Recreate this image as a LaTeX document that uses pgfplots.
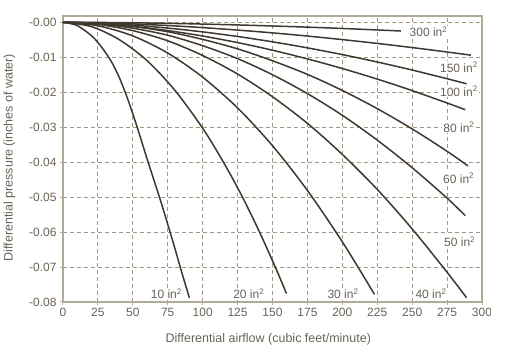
\documentclass[border=0pt]{standalone}
\usepackage{pgfplots}
\pgfplotsset{compat=1.18}
\usepackage{fontspec}
\setmainfont{Liberation Sans}
\definecolor{curve}{RGB}{62,56,47}
\definecolor{gridc}{RGB}{160,152,132}
\definecolor{framec}{RGB}{176,171,152}
\definecolor{txt}{RGB}{105,99,86}
\tikzset{crv/.style={draw=curve, solid, line width=1.5pt, smooth, mark=none}}
\begin{document}
\begin{tikzpicture}
\begin{scope}
\clip (-63pt,-53pt) rectangle (427pt,302pt);
\begin{axis}[
  scale only axis, width=419pt, height=286pt,
  xmin=0, xmax=300, ymin=-0.08, ymax=0.0018,
  scaled y ticks=false, scaled x ticks=false,
  xtick={0,25,50,75,100,125,150,175,200,225,250,275,300},
  xticklabels={0,25,50,75,100,125,150,175,200,225,250,275,300},
  ytick={-0.08,-0.07,-0.06,-0.05,-0.04,-0.03,-0.02,-0.01,0},
  yticklabels={-0.08,-0.07,-0.06,-0.05,-0.04,-0.03,-0.02,-0.01,-0.00},
  grid=major,
  major grid style={gridc, dash pattern=on 4pt off 3pt, line width=0.9pt},
  axis line style={framec, line width=1.2pt},
  tick style={framec, line width=1pt},
  tick align=outside, major tick length=3pt,
  xtick pos=left, ytick pos=left,
  ticklabel style={font=\fontsize{12}{14}\selectfont, text=txt},
  /pgf/number format/assume math mode=true,
  xlabel={Differential airflow (cubic feet/minute)},
  ylabel={Differential pressure (inches of water)},
  every axis x label/.style={at={(axis description cs:0.49,-0.129)}, anchor=center, font=\fontsize{12.5}{14}\selectfont, text=txt},
  every axis y label/.style={at={(axis description cs:-0.128,0.505)}, rotate=90, anchor=center, font=\fontsize{12.5}{14}\selectfont, text=txt},
  clip=false,
]
\addplot[crv] coordinates {(0,0)(10,-0.0009)(20,-0.0037)(25,-0.0058)(30,-0.0084)(35,-0.0115)(40,-0.0155)(45,-0.0205)(50,-0.0262)(55,-0.0324)(60,-0.0388)(65,-0.0450)(70,-0.0512)(75,-0.0578)(80,-0.0645)(85,-0.0715)(90.5,-0.0788)};
\addplot[crv] coordinates {(0,0)(20,-0.0012)(40,-0.0049)(60,-0.0109)(80,-0.0194)(100,-0.0303)(115,-0.0401)(128,-0.0496)(140,-0.0594)(152,-0.0700)(160,-0.0776)};
\addplot[crv] coordinates {(0,0)(25,-0.0010)(50,-0.0039)(75,-0.0088)(100,-0.0157)(125,-0.0245)(150,-0.0353)(175,-0.0481)(200,-0.0628)(223,-0.0778)};
\addplot[crv] coordinates {(0,0)(25,-0.0006)(50,-0.0024)(75,-0.0053)(100,-0.0095)(125,-0.0148)(150,-0.0213)(175,-0.0289)(200,-0.0378)(225,-0.0478)(250,-0.0591)(275,-0.0715)(289,-0.0788)};
\addplot[crv] coordinates {(0,0)(25,-0.0004)(50,-0.0017)(75,-0.0037)(100,-0.0067)(125,-0.0104)(150,-0.0150)(175,-0.0204)(200,-0.0266)(225,-0.0337)(250,-0.0416)(275,-0.0503)(288,-0.0553)};
\addplot[crv] coordinates {(0,0)(25,-0.0003)(50,-0.0012)(75,-0.0027)(100,-0.0049)(125,-0.0076)(150,-0.0110)(175,-0.0149)(200,-0.0195)(225,-0.0247)(250,-0.0305)(275,-0.0369)(290,-0.0411)};
\addplot[crv] coordinates {(0,0)(25,-0.00035)(50,-0.00117)(75,-0.00238)(100,-0.00393)(125,-0.00581)(150,-0.00799)(175,-0.01047)(200,-0.01322)(225,-0.01625)(250,-0.01954)(275,-0.02309)(288,-0.0250)};
\addplot[crv] coordinates {(0,0)(25,-0.00024)(50,-0.00082)(75,-0.00166)(100,-0.00275)(125,-0.00406)(150,-0.00559)(175,-0.00732)(200,-0.00924)(225,-0.01136)(250,-0.01366)(275,-0.01614)(289,-0.0176)};
\addplot[crv] coordinates {(0,0)(25,-0.00014)(50,-0.00047)(75,-0.00093)(100,-0.00152)(125,-0.00223)(150,-0.00303)(175,-0.00394)(200,-0.00495)(225,-0.00605)(250,-0.00723)(275,-0.0085)(292,-0.0094)};
\addplot[crv] coordinates {(0,0)(25,-0.00004)(50,-0.00015)(75,-0.0003)(100,-0.00051)(125,-0.00076)(150,-0.00106)(175,-0.00139)(200,-0.00177)(225,-0.00219)(242,-0.0025)};
\begin{scope}[every node/.style={font=\fontsize{12}{14}\selectfont, text=txt, fill=white, inner sep=1pt}]
\node at (axis cs:74,-0.0777) {10 in\textsuperscript{2}};
\node at (axis cs:133,-0.0777) {20 in\textsuperscript{2}};
\node at (axis cs:200.5,-0.0777) {30 in\textsuperscript{2}};
\node at (axis cs:263.5,-0.0777) {40 in\textsuperscript{2}};
\node at (axis cs:284,-0.0627) {50 in\textsuperscript{2}};
\node at (axis cs:283.3,-0.0446) {60 in\textsuperscript{2}};
\node at (axis cs:283.5,-0.0300) {80 in\textsuperscript{2}};
\node at (axis cs:283.5,-0.0197) {100 in\textsuperscript{2}};
\node at (axis cs:283.5,-0.0129) {150 in\textsuperscript{2}};
\node at (axis cs:261.7,-0.0027) {300 in\textsuperscript{2}};
\end{scope}
\end{axis}
\end{scope}
\pgfresetboundingbox
\path[use as bounding box] (-63pt,-53pt) rectangle (447pt,302pt);
\end{tikzpicture}
\end{document}
